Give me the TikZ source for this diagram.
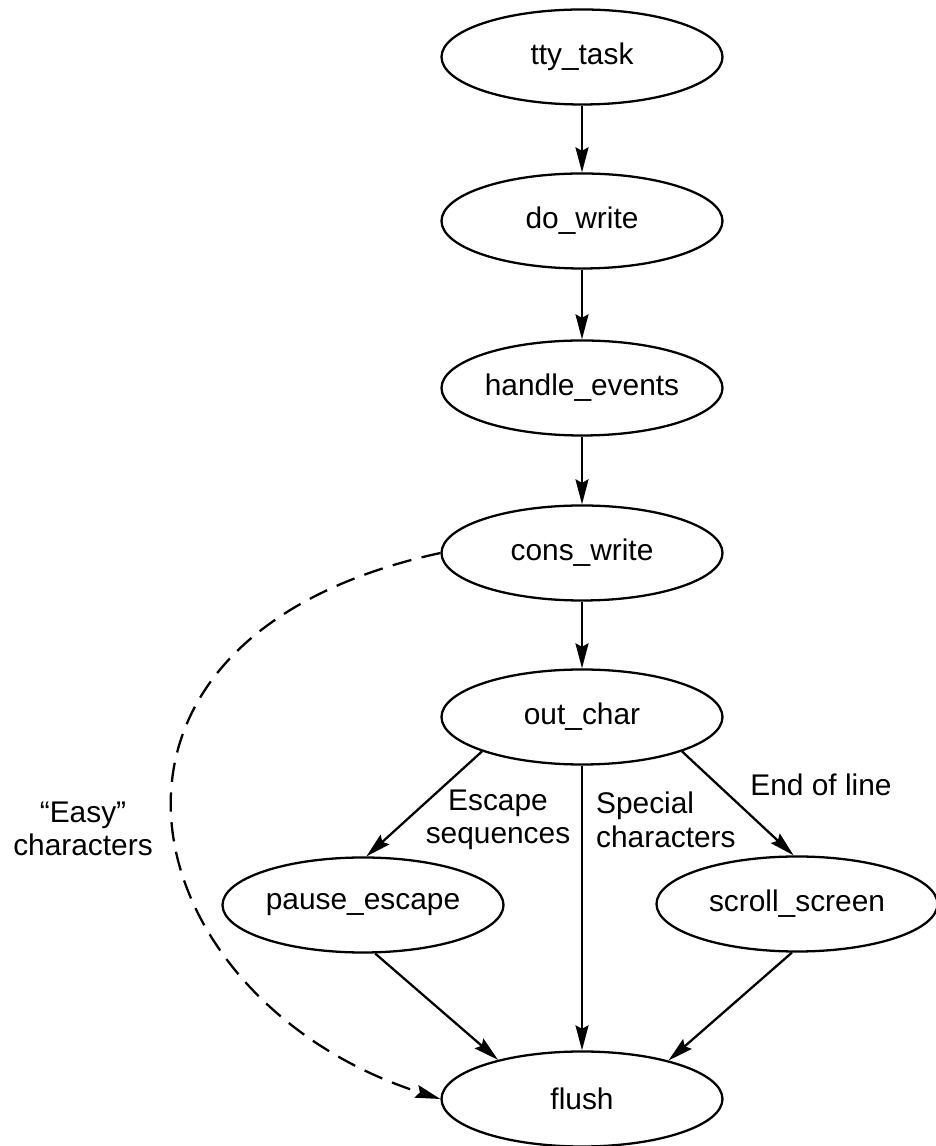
\documentclass[tikz,border=0pt]{standalone}
\usepackage{fontspec}
\setmainfont{Liberation Sans}
\usetikzlibrary{shapes.geometric,arrows.meta}
\begin{document}
\begin{tikzpicture}[line width=1.3pt, >={Stealth[length=5mm,width=2.6mm,inset=0.7mm]},
  proc/.style={ellipse, draw, minimum width=5.62cm, minimum height=1.9cm, inner sep=0pt, font=\fontsize{17}{19}\selectfont},
  txt/.style={inner sep=0pt, font=\fontsize{17}{19}\selectfont}]
\useasboundingbox (0,0) rectangle (18.7,22.92);
% main chain
\node[proc] (tty) at (11.64,21.78) {tty\_task};
\node[proc] (dowrite) at (11.64,18.5) {do\_write};
\node[proc] (handle) at (11.64,15.16) {handle\_events};
\node[proc] (cons) at (11.64,11.86) {cons\_write};
\node[proc] (outchar) at (11.64,8.58) {out\_char};
\draw[->] (tty)--(dowrite);
\draw[->] (dowrite)--(handle);
\draw[->] (handle)--(cons);
\draw[->] (cons)--(outchar);

% branches below out_char
\node[proc] (pause) at (7.26,4.82) {pause\_escape};
\node[proc] (scroll) at (15.94,4.84) {scroll\_screen};
\node[proc] (flush) at (11.64,0.94) {flush};
\draw[->] (outchar.199)--(pause.86);
\draw[->] (outchar.341)--(scroll.94);
\draw[->] (outchar)--(flush);
\draw[->] (pause.284)--(flush.155);
\draw[->] (scroll.264)--(flush.24);
\node[txt, align=center] (esc) at (9.96,6.52) {Escape\\sequences};
\node[txt, align=left, anchor=west] (spec) at (11.9,6.52) {Special\\characters};
\node[txt] (eol) at (16.42,7.22) {End of line};

% easy characters bypass
\draw[->, dash pattern=on 11pt off 6pt] (cons.west) .. controls (0.8,10.12) and (2.6,2.92) .. (flush.west);
\node[txt, align=center] (easy) at (1.66,6.34) {“Easy”\\characters};
\end{tikzpicture}
\end{document}
